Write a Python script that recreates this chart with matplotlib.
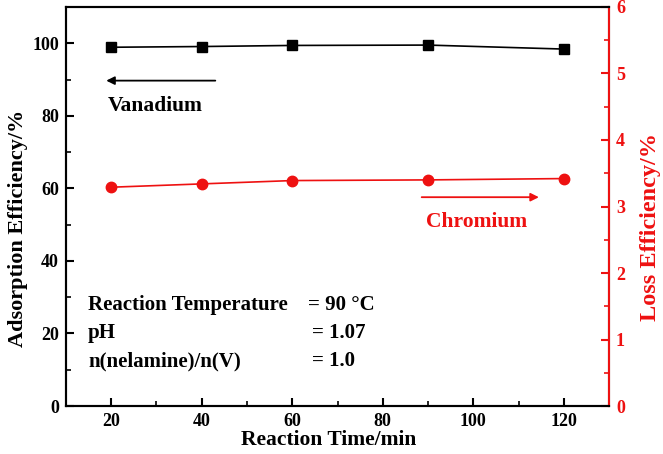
import matplotlib.pyplot as plt
from matplotlib.ticker import MultipleLocator

plt.rcParams["font.family"] = ["Liberation Serif", "DejaVu Serif"]
plt.rcParams["font.weight"] = "bold"

time = [20, 40, 60, 90, 120]
vanadium = [98.9, 99.1, 99.4, 99.5, 98.4]
chromium = [3.29, 3.34, 3.39, 3.40, 3.42]

conditions = ["Reaction Temperature", "pH", "n(nelamine)/n(V)"]
cond_values = ["= 90 \u00b0C", "= 1.07", "= 1.0"]

red = "#ee1111"

fig = plt.figure(figsize=(6.63, 4.54), dpi=100)
ax = fig.add_axes([0.0995, 0.1057, 0.8191, 0.8789])
ax2 = ax.twinx()

ax.plot(time, vanadium, "-s", color="black", markersize=6.5, linewidth=1.2)
ax2.plot(time, chromium, "-o", color=red, markersize=7.5, linewidth=1.2)

ax.set_xlim(10, 130)
ax.set_ylim(0, 110)
ax2.set_ylim(0, 6)

ax.xaxis.set_major_locator(MultipleLocator(20))
ax.xaxis.set_minor_locator(MultipleLocator(10))
ax.yaxis.set_major_locator(MultipleLocator(20))
ax.yaxis.set_minor_locator(MultipleLocator(10))
ax2.yaxis.set_major_locator(MultipleLocator(1))
ax2.yaxis.set_minor_locator(MultipleLocator(0.5))

ax.tick_params(axis="both", which="major", direction="in", length=6, width=1.5,
               labelsize=13, top=False, right=False, pad=5)
ax.tick_params(axis="both", which="minor", direction="in", length=3.5, width=1.2,
               top=False, right=False)
ax2.tick_params(axis="y", which="major", direction="in", length=6, width=1.5,
                labelsize=13, colors=red, pad=5)
ax2.tick_params(axis="y", which="minor", direction="in", length=3.5, width=1.2,
                colors=red)

for s in ax.spines.values():
    s.set_linewidth(1.5)
for s in ax2.spines.values():
    s.set_linewidth(1.5)
ax2.spines["right"].set_color(red)

ax.set_xlabel("Reaction Time/min", fontsize=15.5, fontweight="bold", labelpad=0)
ax.set_ylabel("Adsorption Efficiency/%", fontsize=16, fontweight="bold", labelpad=3)
ax2.set_ylabel("Loss Efficiency/%", fontsize=17.5, fontweight="bold", color=red,
               labelpad=11)
ax.xaxis.label.set_x(0.483)
ax.yaxis.label.set_y(0.446)
ax2.yaxis.label.set_y(0.449)

# arrows and labels
ax.annotate("", xy=(18.9, 89.7), xytext=(43, 89.7),
            arrowprops=dict(arrowstyle="-|>", color="black", lw=1.3,
                            mutation_scale=12, shrinkA=0, shrinkB=0))
ax.text(19.3, 82.6, "Vanadium", fontsize=15.5, fontweight="bold",
        ha="left", va="center")
ax2.annotate("", xy=(114.5, 3.14), xytext=(88.6, 3.14),
             arrowprops=dict(arrowstyle="-|>", color=red, lw=1.3,
                             mutation_scale=12, shrinkA=0, shrinkB=0))
ax2.text(100.8, 2.77, "Chromium", fontsize=15.5, fontweight="bold", color=red,
         ha="center", va="center")

rows_y = [27.9, 20.2, 12.4]
for label, val, y in zip(conditions, cond_values, rows_y):
    ax.text(14.9, y, label, fontsize=15, fontweight="bold", ha="left", va="center")
    ax.text(63.5 if val.endswith("C") else 64.4, y, val, fontsize=15,
            fontweight="bold", ha="left", va="center")

plt.savefig("out.png", dpi=100)
